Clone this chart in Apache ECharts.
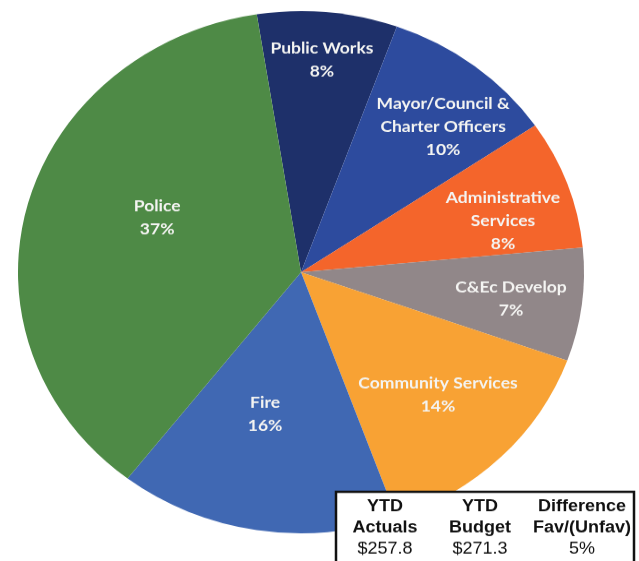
<!DOCTYPE html>
<html>
<head>
<meta charset="utf-8">
<style>
    html, body { margin: 0; padding: 0; background: #fff; overflow: hidden; }
    #wrap { width: 639px; height: 561px; overflow: hidden; }
    /* the photo is squeezed vertically, so the pie is drawn taller and scaled down */
    #main { width: 639px; height: 608px; transform: scaleY(0.9227); transform-origin: 0 0; }
</style>
<script src="https://cdn.jsdelivr.net/npm/echarts@6/dist/echarts.min.js"></script>
</head>
<body>
<div id="wrap"><div id="main"></div></div>
<script>
    // 数据
    const categories = ['Public Works', 'Mayor/Council &\nCharter Officers', 'Administrative\nServices',
        'C&Ec Develop', 'Community Services', 'Fire', 'Police'];
    const shares = [8, 10, 8, 7, 14, 16, 37];
    const tableHeaders = [['YTD', 'Actuals'], ['YTD', 'Budget'], ['Difference', 'Fav/(Unfav)']];
    const tableValues = ['$257.8', '$271.3', '5%'];

    // 样式
    const colors = ['#1e306a', '#2d4b9e', '#f4652b', '#918789', '#f8a234', '#4068b3', '#4e8a46'];
    const labelRadius = [0.816, 0.749, 0.74, 0.749, 0.674, 0.56, 0.549];
    const labelShift = [-0.2, 4.3, 4.5, 0.6, -0.9, 4.1, 7.8];
    const cx = 301, cy = 295, R = 283, startAngle = 99;

    let total = shares.reduce((a, b) => a + b, 0);

    function labelPos(params) {
        let i = params.dataIndex;
        let before = 0;
        for (let k = 0; k < i; k++) before += shares[k];
        // clockwise from 12 o'clock
        let mid = (90 - startAngle) + (before + shares[i] / 2) / total * 360 + labelShift[i];
        let a = mid * Math.PI / 180;
        return {
            x: cx + Math.sin(a) * R * labelRadius[i],
            y: cy - Math.cos(a) * R * labelRadius[i],
            align: 'center',
            verticalAlign: 'middle'
        };
    }

    // 表格
    const colX = [385, 480, 582];
    let graphics = [{
        type: 'rect',
        shape: {x: 336, y: 533, width: 298, height: 100},
        style: {fill: '#fff', stroke: '#111', lineWidth: 2.5},
        z: 10
    }];
    colX.forEach((x, i) => {
        graphics.push({
            type: 'text', x: x, y: 549, z: 11,
            style: {text: tableHeaders[i][0], font: 'bold 18px "Liberation Sans", Arial', fill: '#111',
                align: 'center', verticalAlign: 'middle'}
        });
        graphics.push({
            type: 'text', x: x, y: 572, z: 11,
            style: {text: tableHeaders[i][1], font: 'bold 18px "Liberation Sans", Arial', fill: '#111',
                align: 'center', verticalAlign: 'middle'}
        });
        graphics.push({
            type: 'text', x: x, y: 595, z: 11,
            style: {text: tableValues[i], font: '18px "Liberation Sans", Arial', fill: '#111',
                align: 'center', verticalAlign: 'middle'}
        });
    });

    let myChart = echarts.init(document.getElementById('main'));
    myChart.setOption({
        backgroundColor: '#ffffff',
        animation: false,
        color: colors,
        graphic: graphics,
        series: [{
            type: 'pie',
            center: [cx, cy],
            radius: R,
            startAngle: startAngle,
            clockwise: true,
            avoidLabelOverlap: false,
            itemStyle: {borderWidth: 0},
            label: {
                show: true,
                position: 'inside',
                formatter: '{b}\n{c}%',
                color: '#f4f4f2',
                fontFamily: 'Lato',
                fontWeight: 'bold',
                fontSize: 17.5,
                lineHeight: 25
            },
            labelLine: {show: false},
            labelLayout: labelPos,
            data: categories.map((name, i) => ({name: name, value: shares[i]}))
        }]
    });
</script>
</body>
</html>
